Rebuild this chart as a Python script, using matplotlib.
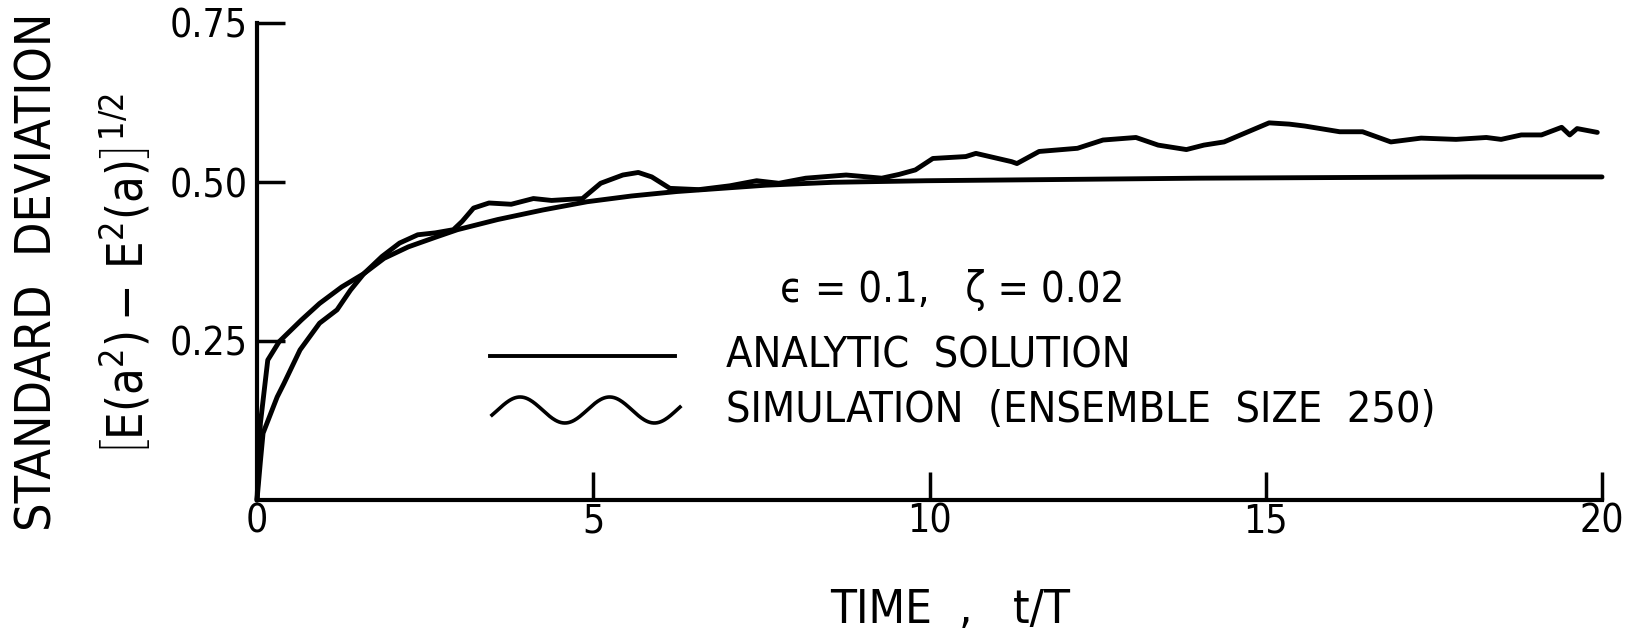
import numpy as np
import matplotlib
matplotlib.use("Agg")
import matplotlib.pyplot as plt
from matplotlib import font_manager as fm
from matplotlib.lines import Line2D

# ---------------- data ----------------
t_analytic = [0, 0.05, 0.16, 0.33, 0.66, 0.93, 1.26, 1.59, 1.89, 2.25, 2.65, 2.98,
              3.58, 4.25, 4.91, 5.57, 6.24, 6.9, 7.57, 8.56, 9.95, 12, 14, 16, 18, 20]
sd_analytic = [0, 0.12, 0.22, 0.249, 0.283, 0.309, 0.335, 0.356, 0.38, 0.398, 0.413, 0.425,
               0.441, 0.456, 0.469, 0.478, 0.485, 0.490, 0.495, 0.4995, 0.502, 0.504, 0.506,
               0.507, 0.508, 0.508]

t_sim = [0, 0.05, 0.09, 0.30, 0.40, 0.64, 0.93, 1.19, 1.39, 1.59, 1.86, 2.12, 2.39, 2.65,
         2.92, 3.05, 3.22, 3.45, 3.78, 4.11, 4.38, 4.84, 5.11, 5.44, 5.67, 5.87, 6.14, 6.57,
         7.03, 7.43, 7.76, 8.16, 8.76, 9.29, 9.55, 9.79, 10.05, 10.54, 10.69, 11.22, 11.30,
         11.63, 12.2, 12.58, 13.07, 13.4, 13.82, 14.08, 14.38, 15.05, 15.35, 15.58, 16.1,
         16.44, 16.86, 17.31, 17.83, 18.28, 18.5, 18.8, 19.1, 19.4, 19.52, 19.63, 19.93]
sd_sim = [0, 0.06, 0.105, 0.162, 0.183, 0.236, 0.278, 0.299, 0.330, 0.356, 0.383, 0.404,
          0.417, 0.420, 0.425, 0.438, 0.459, 0.467, 0.465, 0.474, 0.471, 0.474, 0.498, 0.511,
          0.515, 0.508, 0.49, 0.488, 0.494, 0.502, 0.498, 0.506, 0.511, 0.506, 0.512, 0.519,
          0.537, 0.540, 0.545, 0.532, 0.529, 0.548, 0.553, 0.566, 0.570, 0.558, 0.551, 0.558,
          0.563, 0.593, 0.591, 0.588, 0.579, 0.579, 0.563, 0.569, 0.567, 0.570, 0.567, 0.574,
          0.574, 0.586, 0.574, 0.584, 0.578]

x_ticks = [0, 5, 10, 15, 20]
x_ticklabels = ["0", "5", "10", "15", "20"]
y_ticks = [0.25, 0.50, 0.75]
y_ticklabels = ["0.25", "0.50", "0.75"]

xlabel = "TIME  ,   t/T"
ylabel1 = "STANDARD  DEVIATION"
ylabel2 = r"$\left[\mathrm{E(a^2)-\,E^2(a)}\right]^{1/2}$"
param_text = "ϵ = 0.1,   ζ = 0.02"
legend_labels = ["ANALYTIC  SOLUTION", "SIMULATION  (ENSEMBLE  SIZE  250)"]

# ---------------- fonts ----------------
names = {f.name for f in fm.fontManager.ttflist}
if "Liberation Sans Narrow" in names:
    FAM = ["Liberation Sans Narrow", "DejaVu Sans"]
    STRETCH = "normal"
else:
    FAM = ["DejaVu Sans"]
    STRETCH = "condensed"
plt.rcParams["font.family"] = FAM
plt.rcParams["font.stretch"] = STRETCH
plt.rcParams["mathtext.fontset"] = "custom"
plt.rcParams["mathtext.rm"] = "DejaVu Sans:stretch=condensed"

W, H = 1642, 642
fig = plt.figure(figsize=(W / 100, H / 100), dpi=100)


def fx(px):
    return px / W


def fy(py):
    return 1 - py / H


ax = fig.add_axes([fx(257), fy(500), fx(1602) - fx(257), fy(23) - fy(500)])

lw = 3.5
ax.plot(t_analytic, sd_analytic, color="black", lw=lw, solid_capstyle="round",
        solid_joinstyle="round", clip_on=False)
ax.plot(t_sim, sd_sim, color="black", lw=lw, solid_capstyle="round",
        solid_joinstyle="round", clip_on=False)

ax.set_xlim(0, 20)
ax.set_ylim(0, 0.75)
for s in ["top", "right"]:
    ax.spines[s].set_visible(False)
for s in ["left", "bottom"]:
    ax.spines[s].set_linewidth(3)
ax.set_xticks(x_ticks)
ax.set_xticklabels(x_ticklabels)
ax.set_yticks(y_ticks)
ax.set_yticklabels(y_ticklabels)
ax.tick_params(axis="both", direction="in", length=20, width=2.5, labelsize=28,
               colors="black")
ax.tick_params(axis="x", pad=2)
ax.tick_params(axis="y", pad=7)

# axis labels
fig.text(fx(950), fy(610), xlabel, ha="center", va="center", fontsize=34)
fig.text(fx(38), fy(272), ylabel1, ha="center", va="center", rotation=90, fontsize=36)
fig.text(fx(126), fy(275), ylabel2, ha="center", va="center", rotation=90, fontsize=35)

# parameters and legend
fig.text(fx(952), fy(290), param_text, ha="center", va="center", fontsize=30,
         family=FAM + ["DejaVu Sans"])
fig.text(fx(726), fy(356), legend_labels[0], ha="left", va="center", fontsize=31)
fig.text(fx(726), fy(410), legend_labels[1], ha="left", va="center", fontsize=31)

fig.add_artist(Line2D([fx(490), fx(675)], [fy(356), fy(356)], color="black", lw=2.8,
                      transform=fig.transFigure))
wx = np.linspace(492, 680, 200)
wy = 410 - 13 * np.sin((wx - 492) / 188 * 2 * np.pi * 2.1 - 0.4)
fig.add_artist(Line2D([fx(v) for v in wx], [fy(v) for v in wy], color="black", lw=2.6,
                      transform=fig.transFigure))

fig.savefig("out.png", dpi=100, facecolor="white")
